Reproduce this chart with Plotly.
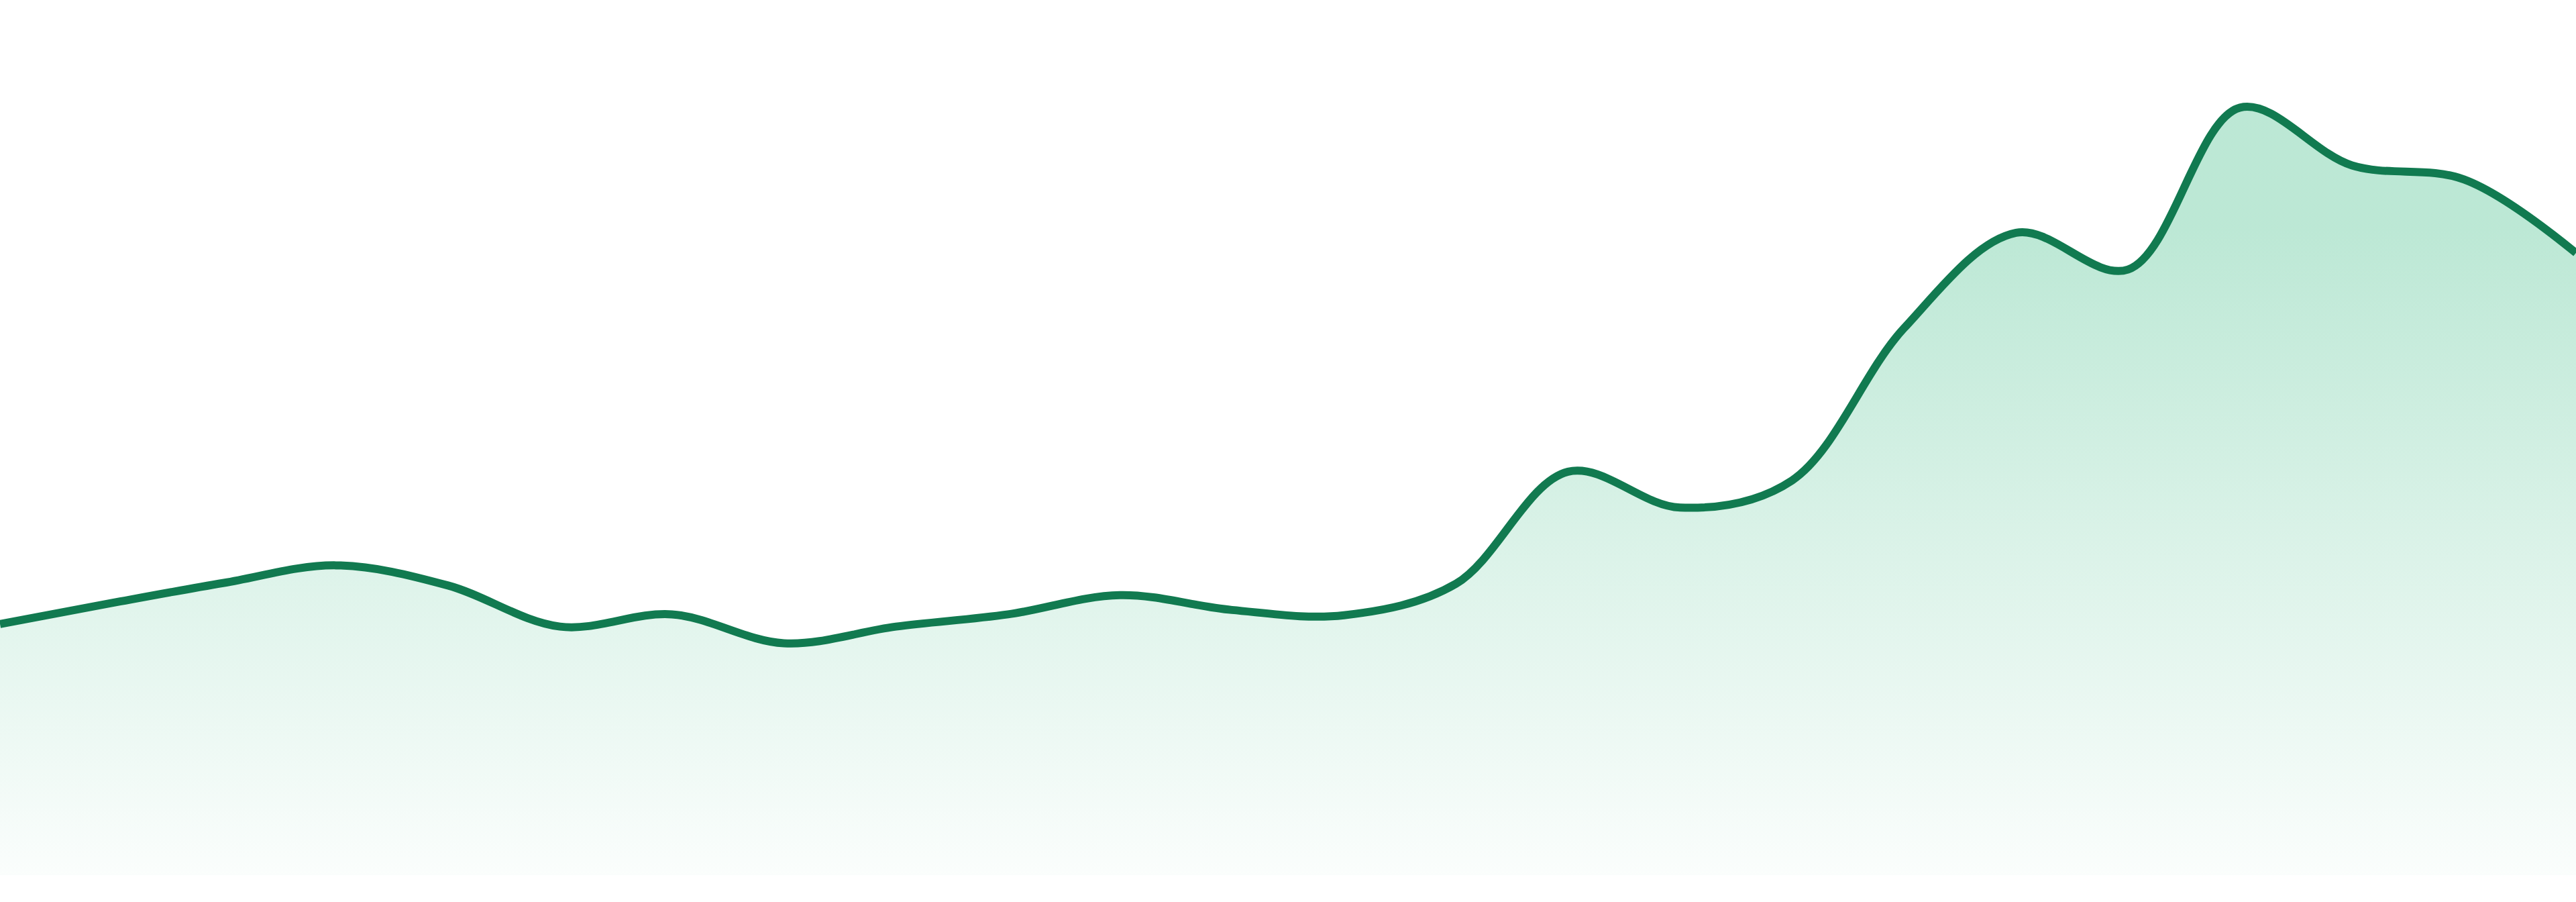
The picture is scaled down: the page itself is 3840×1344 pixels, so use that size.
"""Smoothed area trend, edge to edge, no axes."""
import plotly.graph_objects as go

LINE = "#117a50"
FILL_TOP = "rgba(32,178,115,0.30)"
FILL_BOTTOM = "rgba(32,178,115,0.02)"

# one value per step (0-100 scale)
steps = list(range(24))
values = [
    28.7, 31.1, 33.4, 35.4, 33.1, 28.4, 29.8, 26.5,
    28.4, 29.8, 32.0, 30.3, 29.7, 33.3, 46.1, 42.0,
    45.1, 62.5, 73.4, 69.2, 87.7, 81.1, 79.5, 71.1,
]
# gradient runs from the baseline up to this level, flat above it
GRADIENT_TOP = 74


def area_trend():
    fig = go.Figure()
    fig.add_trace(go.Scatter(
        x=steps, y=values, mode="lines",
        line=dict(color=LINE, width=12, shape="spline", smoothing=1),
        fill="tozeroy",
        fillgradient=dict(
            type="vertical", start=0, stop=GRADIENT_TOP,
            colorscale=[[0, FILL_BOTTOM], [1, FILL_TOP]],
        ),
        hoverinfo="skip",
    ))
    fig.update_layout(
        width=3840, height=1344,
        margin=dict(l=0, r=0, t=0, b=40),
        paper_bgcolor="white", plot_bgcolor="white",
        showlegend=False,
    )
    fig.update_xaxes(visible=False, range=[steps[0], steps[-1]], fixedrange=True)
    fig.update_yaxes(visible=False, range=[0, 100], fixedrange=True)
    return fig


fig = area_trend()
# the default page body has an 8px margin; drop it so the figure fills the window
fig.write_html("out.html", config={"displayModeBar": False},
               post_script="document.body.style.margin='0';")
